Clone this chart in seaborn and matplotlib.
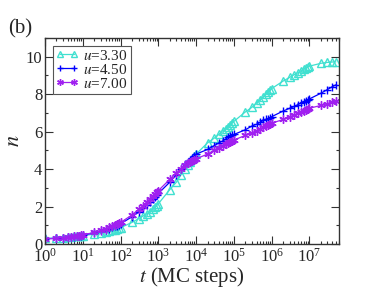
import matplotlib
matplotlib.use('Agg')
import matplotlib.pyplot as plt
import matplotlib.ticker as mticker
import numpy as np
import pandas as pd
import seaborn as sns

sns.set_style('ticks')
plt.rcParams['font.family'] = ['Liberation Serif', 'DejaVu Serif']
plt.rcParams['mathtext.fontset'] = 'stix'

# time points: 1..9 x 10^k, up to 5e7
mult = [1, 2, 3, 4, 5, 6, 7, 8, 9]
t_vals = [m * 10.0 ** k for k in range(7) for m in mult] + [1e7, 2e7, 3e7, 4e7, 5e7]

n_330 = [0.30, 0.32, 0.34, 0.36, 0.38, 0.40, 0.41, 0.43, 0.44,
         0.45, 0.52, 0.58, 0.63, 0.68, 0.72, 0.76, 0.80, 0.83,
         0.87, 1.15, 1.35, 1.50, 1.62, 1.72, 1.85, 1.95, 2.05,
         2.15, 2.90, 3.30, 3.70, 4.00, 4.20, 4.40, 4.55, 4.70,
         4.80, 5.40, 5.65, 5.85, 6.05, 6.15, 6.25, 6.35, 6.45,
         6.55, 7.05, 7.30, 7.55, 7.70, 7.85, 8.00, 8.10, 8.20,
         8.30, 8.70, 8.90, 9.05, 9.15, 9.25, 9.35, 9.40, 9.45,
         9.50, 9.65, 9.70, 9.72, 9.73]

n_450 = [0.28, 0.30, 0.33, 0.35, 0.37, 0.39, 0.41, 0.43, 0.45,
         0.47, 0.60, 0.68, 0.75, 0.82, 0.88, 0.94, 0.98, 1.03,
         1.08, 1.45, 1.70, 1.90, 2.10, 2.25, 2.40, 2.50, 2.60,
         2.70, 3.30, 3.70, 4.00, 4.25, 4.40, 4.50, 4.60, 4.70,
         4.80, 5.05, 5.25, 5.40, 5.50, 5.60, 5.70, 5.75, 5.80,
         5.85, 6.10, 6.30, 6.40, 6.50, 6.60, 6.65, 6.70, 6.75,
         6.80, 7.10, 7.25, 7.35, 7.45, 7.55, 7.60, 7.65, 7.70,
         7.75, 8.05, 8.25, 8.40, 8.50]

n_700 = [0.27, 0.30, 0.33, 0.36, 0.38, 0.40, 0.42, 0.44, 0.46,
         0.48, 0.62, 0.72, 0.80, 0.88, 0.95, 1.00, 1.05, 1.10,
         1.15, 1.55, 1.85, 2.05, 2.25, 2.40, 2.55, 2.65, 2.75,
         2.85, 3.45, 3.80, 4.00, 4.20, 4.30, 4.40, 4.45, 4.50,
         4.55, 4.80, 5.00, 5.15, 5.25, 5.35, 5.40, 5.45, 5.50,
         5.55, 5.80, 5.95, 6.05, 6.15, 6.25, 6.30, 6.35, 6.40,
         6.45, 6.65, 6.80, 6.90, 7.00, 7.05, 7.10, 7.15, 7.20,
         7.25, 7.40, 7.50, 7.58, 7.62]

series = [
    ('$u$=3.30', n_330, '#40e0d0', '^', 'none'),
    ('$u$=4.50', n_450, '#0000ff', '+', None),
    ('$u$=7.00', n_700, '#a020f0', (6, 2, 0), None),
]

fig = plt.figure(figsize=(3.82, 2.95), dpi=100)
ax = fig.add_axes([0.118, 0.173, 0.769, 0.698])

for label, vals, col, mk, mfc in series:
    df = pd.DataFrame({'t': t_vals, 'n': vals})
    kw = dict(marker=mk, markersize=6, markeredgewidth=1.0, markeredgecolor=col)
    if mfc is not None:
        kw['markerfacecolor'] = mfc
    sns.lineplot(data=df, x='t', y='n', ax=ax, color=col, linewidth=0.9,
                 label=label, **kw)

ax.set_xscale('log')
ax.set_xlim(1, 6e7)
ax.set_ylim(0, 11)
ax.xaxis.set_major_locator(mticker.LogLocator(base=10, numticks=20))
ax.xaxis.set_minor_locator(mticker.LogLocator(base=10, subs=np.arange(2, 10), numticks=20))
ax.xaxis.set_minor_formatter(mticker.NullFormatter())
ax.yaxis.set_major_locator(mticker.MultipleLocator(2))
ax.yaxis.set_minor_locator(mticker.MultipleLocator(1))

ax.tick_params(which='both', direction='in', top=True, right=True, labelsize=12,
               width=0.8, color='#333333')
ax.tick_params(which='major', length=5.5)
ax.tick_params(which='minor', length=2.5)
ax.tick_params(axis='x', pad=3)
ax.tick_params(axis='y', pad=2)
for sp in ax.spines.values():
    sp.set_linewidth(1.0)
    sp.set_color('#333333')

ax.set_xlabel('$t$ (MC steps)', fontsize=15, labelpad=-1)
ax.set_ylabel('$n$', fontsize=16, labelpad=1)

leg = ax.legend(loc='upper left', fontsize=11, numpoints=2, handlelength=1.5,
                handletextpad=0.3, borderpad=0.2, labelspacing=0.0,
                fancybox=False, framealpha=1, borderaxespad=0.5, markerscale=0.8)
leg.get_frame().set_edgecolor('#555555')
leg.get_frame().set_linewidth(0.8)

fig.text(0.02, 0.885, '(b)', fontsize=15)

fig.savefig('out.png', dpi=100)
